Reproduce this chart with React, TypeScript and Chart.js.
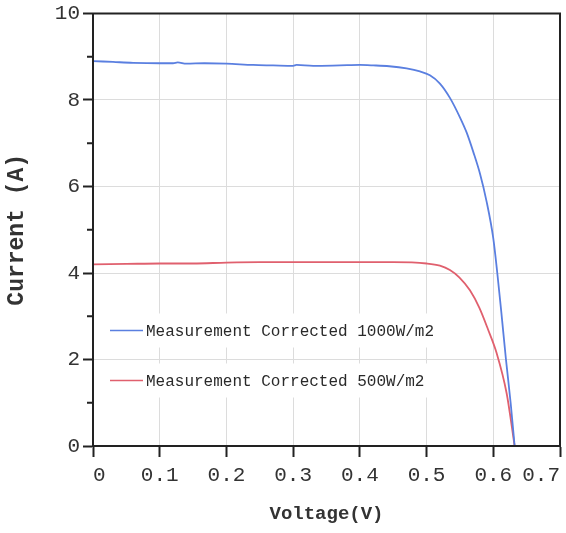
import React, { useEffect, useRef } from 'react';
import { Chart, registerables } from 'chart.js';

Chart.register(...registerables);

// ---- data ----
const voltage1000 = [0, 0.03, 0.06, 0.1, 0.12, 0.127, 0.14, 0.167, 0.2, 0.24, 0.27, 0.3, 0.305, 0.33, 0.37, 0.4, 0.42, 0.444, 0.47, 0.49, 0.505, 0.52, 0.535, 0.55, 0.56, 0.57, 0.58, 0.59, 0.6, 0.606, 0.612, 0.619, 0.626, 0.632];
const current1000 = [8.9, 8.88, 8.86, 8.85, 8.85, 8.87, 8.84, 8.85, 8.84, 8.81, 8.8, 8.79, 8.81, 8.79, 8.8, 8.81, 8.8, 8.78, 8.73, 8.66, 8.57, 8.38, 8.05, 7.6, 7.25, 6.8, 6.3, 5.65, 4.8, 4.0, 3.1, 2.0, 1.0, 0];
const voltage500 = [0, 0.05, 0.1, 0.15, 0.2, 0.25, 0.3, 0.35, 0.4, 0.45, 0.5, 0.52, 0.535, 0.549, 0.565, 0.579, 0.592, 0.605, 0.62, 0.632];
const current500 = [4.2, 4.21, 4.22, 4.22, 4.24, 4.25, 4.25, 4.25, 4.25, 4.25, 4.22, 4.17, 4.07, 3.9, 3.6, 3.2, 2.7, 2.15, 1.22, 0];

const seriesLabels = ['Measurement Corrected 1000W/m2', 'Measurement Corrected 500W/m2'];
const seriesColors = ['#5a7fe0', '#e0606e'];

const xTicks = [0, 0.1, 0.2, 0.3, 0.4, 0.5, 0.6, 0.7];
const xTickLabels = ['0', '0.1', '0.2', '0.3', '0.4', '0.5', '0.6', '0.7'];
const yTicks = [0, 2, 4, 6, 8, 10];
const yTickLabels = ['0', '2', '4', '6', '8', '10'];
const yMinorTicks = [1, 3, 5, 7, 9];

const xTitle = 'Voltage(V)';
const yTitle = 'Current (A)';

const MONO = '"Liberation Mono", "Courier New", monospace';

const framePlugin = {
  id: 'frameAndLegend',
  afterDatasetsDraw(chart: any) {
    const { ctx, chartArea, scales } = chart;
    const { left, top, right, bottom } = chartArea;
    ctx.save();
    // legend rows (white background hides grid)
    const rows = [top + 317, top + 367];
    ctx.fillStyle = '#ffffff';
    rows.forEach((cy) => {
      ctx.fillRect(left + 8, cy - 17, 340, 34);
    });
    ctx.font = `16px ${MONO}`;
    ctx.textBaseline = 'middle';
    ctx.textAlign = 'left';
    rows.forEach((cy, i) => {
      ctx.strokeStyle = seriesColors[i];
      ctx.lineWidth = 1.5;
      ctx.beginPath();
      ctx.moveTo(left + 17, cy);
      ctx.lineTo(left + 50, cy);
      ctx.stroke();
      ctx.fillStyle = '#2a2a2a';
      ctx.fillText(seriesLabels[i], left + 53, cy + 1);
    });
    // frame
    ctx.strokeStyle = '#222222';
    ctx.lineWidth = 2;
    ctx.strokeRect(left, top, right - left, bottom - top);
    // minor ticks on y
    const ys = scales.y;
    ctx.beginPath();
    yMinorTicks.forEach((v) => {
      const py = ys.getPixelForValue(v);
      ctx.moveTo(left - 6, py);
      ctx.lineTo(left, py);
    });
    ctx.stroke();
    ctx.restore();
  },
};

export default function App() {
  const ref = useRef<HTMLCanvasElement | null>(null);

  useEffect(() => {
    document.body.style.margin = '0';
    const canvas = ref.current;
    if (!canvas) return;
    const chart = new Chart(canvas, {
      type: 'line',
      data: {
        datasets: [
          {
            label: seriesLabels[0],
            data: voltage1000.map((x, i) => ({ x, y: current1000[i] })),
            borderColor: seriesColors[0],
            borderWidth: 1.8,
            pointRadius: 0,
            cubicInterpolationMode: 'monotone',
          },
          {
            label: seriesLabels[1],
            data: voltage500.map((x, i) => ({ x, y: current500[i] })),
            borderColor: seriesColors[1],
            borderWidth: 1.8,
            pointRadius: 0,
            cubicInterpolationMode: 'monotone',
          },
        ],
      },
      options: {
        responsive: false,
        animation: false,
        layout: { padding: { top: 13, right: 5, left: 0, bottom: 0 } },
        plugins: { legend: { display: false }, tooltip: { enabled: false } },
        scales: {
          x: {
            type: 'linear',
            min: 0,
            max: 0.7,
            afterBuildTicks: (s: any) => {
              s.ticks = xTicks.map((v) => ({ value: v }));
            },
            afterFit: (s: any) => {
              s.height = 87;
            },
            ticks: {
              align: 'inner',
              padding: 6,
              color: '#333333',
              font: { family: MONO, size: 21 },
              callback: (_v: any, i: number) => xTickLabels[i],
            },
            grid: {
              color: '#dcdcdc',
              lineWidth: 1,
              tickColor: '#222222',
              tickWidth: 2,
              tickLength: 11,
            },
            border: { color: '#222222', width: 2 },
            title: {
              display: true,
              text: xTitle,
              color: '#333333',
              font: { family: MONO, size: 19, weight: 'bold' },
              padding: { top: 0, bottom: 7 },
            },
          },
          y: {
            type: 'linear',
            min: 0,
            max: 10,
            afterBuildTicks: (s: any) => {
              s.ticks = yTicks.map((v) => ({ value: v }));
            },
            afterFit: (s: any) => {
              s.width = 93;
            },
            ticks: {
              padding: 3,
              color: '#333333',
              font: { family: MONO, size: 21, lineHeight: 1 },
              callback: (_v: any, i: number) => yTickLabels[i],
            },
            grid: {
              color: '#dcdcdc',
              lineWidth: 1,
              tickColor: '#222222',
              tickWidth: 2,
              tickLength: 10,
            },
            border: { color: '#222222', width: 2 },
            title: {
              display: true,
              text: yTitle,
              color: '#333333',
              font: { family: MONO, size: 23, weight: 'bold' },
              padding: { top: 3, bottom: 0 },
            },
          },
        },
      } as any,
      plugins: [framePlugin],
    });
    return () => chart.destroy();
  }, []);

  return (
    <div style={{ width: 566, height: 533 }}>
      <canvas ref={ref} width={566} height={533} style={{ display: 'block', width: 566, height: 533 }} />
    </div>
  );
}
